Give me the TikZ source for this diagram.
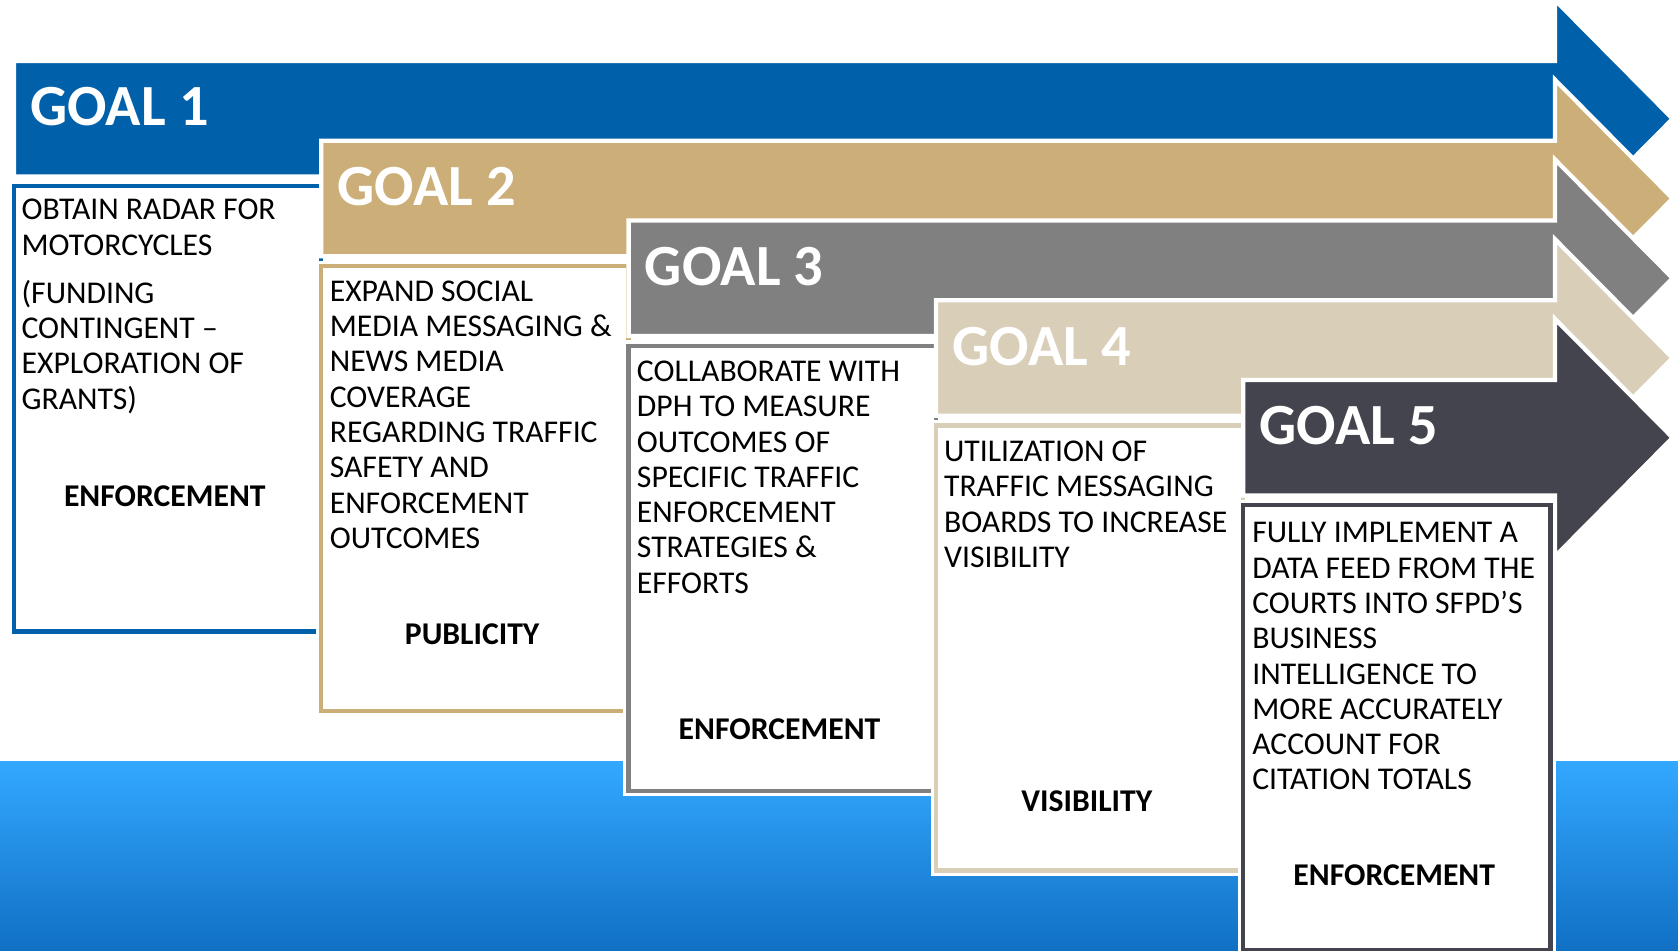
\documentclass[tikz,border=0pt]{standalone}
\usepackage{fontspec}
\setmainfont{Carlito}

\definecolor{goalblue}{RGB}{0,96,170}
\definecolor{goaltan}{RGB}{204,175,120}
\definecolor{goalgray}{RGB}{128,128,128}
\definecolor{goalsand}{RGB}{217,207,184}
\definecolor{goaldark}{RGB}{68,68,78}
\definecolor{seatop}{RGB}{51,168,255}
\definecolor{seabot}{RGB}{16,112,196}

\tikzset{
  goaltxt/.style={anchor=west, text=white, inner sep=0, font=\fontsize{54.5}{60}\selectfont\bfseries},
  plan/.style={draw=#1, line width=4, fill=white, preaction={draw=white, line width=10},
    minimum width=287, minimum height=416, anchor=north west, inner sep=0},
  desc/.style={anchor=north west, align=left, inner sep=0, font=\fontsize{29.6}{33}\selectfont},
  focus/.style={inner sep=0, font=\fontsize{29.6}{33}\selectfont\bfseries}
}

\begin{document}
\begin{tikzpicture}[x=1pt, y=-1pt]
  \useasboundingbox (0,0) rectangle (1568,888);
  \shade[top color=seatop, bottom color=seabot] (0,712) rectangle (1568,888);

  \foreach \i/\col/\tag/\ty in {0/goalblue/ENFORCEMENT/464, 1/goaltan/PUBLICITY/593,
      2/goalgray/ENFORCEMENT/681, 3/goalsand/VISIBILITY/749, 4/goaldark/ENFORCEMENT/818}{
    \pgfmathsetmacro\xl{13+287.2*\i}
    \pgfmathsetmacro\yt{57+74.5*\i}
    \pgfmathtruncatemacro\n{\i+1}
    \fill[\col, draw=white, line width=4] (\xl,\yt) -- (1453,\yt) -- (1453,\yt-57)
      -- (1563,\yt+54) -- (1453,\yt+165) -- (1453,\yt+108) -- (\xl,\yt+108) -- cycle;
    \node[goaltxt] (goal\n) at (\xl+15,\yt+43) {GOAL \n};
    \node[plan=\col] (box\n) at (\xl-2,\yt+115) {};
    \node[focus] (tag\n) at (\xl+141,\ty) {\tag};
  }

  \node[desc] (desc1) at (20,186) {OBTAIN RADAR FOR\\MOTORCYCLES\\[12pt](FUNDING\\CONTINGENT –\\EXPLORATION OF\\GRANTS)};
  \node[desc] (desc2) at (308,262) {EXPAND SOCIAL\\MEDIA MESSAGING \&\\NEWS MEDIA\\COVERAGE\\REGARDING TRAFFIC\\SAFETY AND\\ENFORCEMENT\\OUTCOMES};
  \node[desc] (desc3) at (595,337) {COLLABORATE WITH\\DPH TO MEASURE\\OUTCOMES OF\\SPECIFIC TRAFFIC\\ENFORCEMENT\\STRATEGIES \&\\EFFORTS};
  \node[desc] (desc4) at (882,412) {UTILIZATION OF\\TRAFFIC MESSAGING\\BOARDS TO INCREASE\\VISIBILITY};
  \node[desc] (desc5) at (1170,488) {FULLY IMPLEMENT A\\DATA FEED FROM THE\\COURTS INTO SFPD’S\\BUSINESS\\INTELLIGENCE TO\\MORE ACCURATELY\\ACCOUNT FOR\\CITATION TOTALS};
\end{tikzpicture}
\end{document}
